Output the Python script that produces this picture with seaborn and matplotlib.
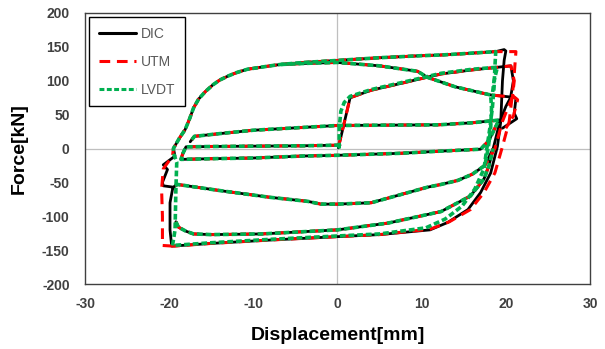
import matplotlib
matplotlib.use("Agg")
import matplotlib.pyplot as plt
from matplotlib.colors import to_hex
import pandas as pd
import seaborn as sns

series_names = ["DIC", "UTM", "LVDT"]
colors = {"DIC": "#000000", "UTM": "#FF0000", "LVDT": "#00B050"}

# branches shared by the three measurements (displacement mm, force kN)
loop1_x = [0.3, -4.3, -10, -15, -18, -18.4, -18.6, -15, -10, -4, 0, 7.5, 12, 17,
           18, 18.7, 19.2, 16, 12, 6, 0, -4.3, -10, -14, -17, -17.5]
loop1_y = [5, 4, 3.5, 3, 2.5, -8, -16, -15, -14, -11, -10, -7, -4, -1,
           12, 30, 42, 38, 35, 34.5, 34, 31, 27, 22, 18, 10]
mid_x = [-19.3, -19, -14, -8, -3.5, -2, 0, 4, 7.5, 10.7, 12.3, 14.3, 16, 17.5]
mid_y = [-55, -53, -62, -72, -78, -82, -82, -80, -68, -57, -53, -47, -38, -25]
desc_x = [18.2, 14, 10.7, 9.5, 5, 0, -3, -6.8]
desc_y = [79, 91, 105, 114, 122, 127, 126, 124]
env_x = [-19.5, -18.8, -18.1, -17.6, -17.1, -16.5, -15.7, -14.8, -14.0, -13.0, -12,
         -10.7, -8, -6.8, -4, 0, 5, 10, 12.3, 15, 18.8]
env_y = [0, 15, 28, 43, 60, 73, 84, 94, 101, 107, 112,
         117, 122, 124, 127, 130, 134, 137, 138, 140, 143]
lowin_x = [-19.2, -18.9, -18, -17.1, -15, -9, 0, 6, 12.3, 15.8, 17.4, 18.0, 18.5]
lowin_y = [-108, -116, -122, -126, -127, -126, -120, -110, -93, -70, -45, -25, 0]

# DIC
dic_init_x = [0.1, 0.8, 1.5, 4, 7.5, 12.3, 16, 20.6, 20.9, 20.6, 21.2, 21.0, 21.3, 19.6]
dic_init_y = [1, 38, 75, 86, 96, 110, 116, 122, 100, 78, 74, 52, 44, 30]
dic_turn_x = [18.5, 19.3, 20.0, 20.6]
dic_turn_y = [0, 40, 62, 76]
dic_left_x = [-19.5, -20.7, -20.8, -20.2, -20.7, -19.3]
dic_left_y = [-57, -55, -50, -31, -24, -11]
dic_outer_x = [18.8, 19.8, 20.0, 19.8, 19.6, 19.4, 19.0, 18.2, 17.0, 15.5, 13.1, 11.0,
               5, 0, -8, -15, -19.7, -19.9, -19.9, -19.6, -19.3]
dic_outer_y = [143, 146, 144, 130, 100, 40, 3, -36, -65, -90, -109, -120,
               -127, -130, -135, -140, -144, -120, -80, -60, -55]

# UTM
utm_init_x = [0.1, 0.8, 1.5, 4, 7.5, 12.3, 16, 20.6, 21.0, 20.8, 21.4, 20.9, 20.0]
utm_init_y = [2, 38, 75, 86, 96, 110, 116, 122, 100, 78, 72, 48, 30]
utm_turn_x = [18.7, 19.6, 20.3, 20.8]
utm_turn_y = [0, 40, 62, 76]
utm_left_x = [-19.5, -20.8, -20.8, -20.9, -20.7, -20.3, -19.6]
utm_left_y = [-144, -143, -100, -60, -30, -23, -11]
utm_outer_x = [18.8, 21.2, 21.0, 20.8, 20.4, 19.6, 18.7, 17.4, 15.8, 13.3, 11.0,
               5, 0, -8, -15, -19.5]
utm_outer_y = [143, 143, 110, 82, 40, 3, -36, -65, -90, -108, -119,
               -127, -130, -135, -140, -144]

# LVDT
lvdt_init_x = [0.2, 0.2, 0.4, 0.8, 1.5, 4, 7.5, 12.3, 16, 19.0, 18.6, 18.4]
lvdt_init_y = [0, 30, 55, 68, 77, 87, 97, 111, 117, 120, 100, 80]
lvdt_turn_x = [17.9, 18.2, 18.3]
lvdt_turn_y = [0, 30, 60]
lvdt_left_x = [-19.6, -19.3, -19.2, -19.1, -19.4]
lvdt_left_y = [-143, -120, -60, -20, -10]
lvdt_outer_x = [18.8, 18.7, 18.6, 18.4, 18.1, 17.8, 17.4, 16.3, 14.8, 12.8, 10.5,
                5, 0, -8, -15, -19.6]
lvdt_outer_y = [143, 120, 90, 60, 30, 5, -30, -60, -85, -104, -117,
                -126, -129, -134, -139, -143]

paths = {
    "DIC": [
        (dic_init_x, dic_init_y),
        (loop1_x, loop1_y),
        (mid_x + dic_turn_x + desc_x, mid_y + dic_turn_y + desc_y),
        (dic_left_x + env_x + dic_outer_x, dic_left_y + env_y + dic_outer_y),
        (lowin_x, lowin_y),
    ],
    "UTM": [
        (utm_init_x, utm_init_y),
        (loop1_x, loop1_y),
        (mid_x + utm_turn_x + desc_x, mid_y + utm_turn_y + desc_y),
        (utm_left_x + env_x + utm_outer_x, utm_left_y + env_y + utm_outer_y),
        (lowin_x, lowin_y),
    ],
    "LVDT": [
        (lvdt_init_x, lvdt_init_y),
        (loop1_x, loop1_y),
        (mid_x + lvdt_turn_x + desc_x, mid_y + lvdt_turn_y + desc_y),
        (lvdt_left_x + env_x + lvdt_outer_x, lvdt_left_y + env_y + lvdt_outer_y),
        (lowin_x, lowin_y),
    ],
}

rows = []
for name, segs in paths.items():
    for k, (xs, ys) in enumerate(segs):
        for x, y in zip(xs, ys):
            rows.append({"series": name, "seg": f"{name}_{k}", "disp": x, "force": y})
df = pd.DataFrame(rows)

sns.set_theme(style="white")
plt.rcParams["font.family"] = ["Liberation Sans", "DejaVu Sans"]
plt.rcParams["axes.unicode_minus"] = False

fig = plt.figure(figsize=(6.05, 3.49), dpi=100)
ax = fig.add_axes([0.1405, 0.186, 0.8347, 0.7768])

ax.axhline(0, color="#BFBFBF", lw=0.9, zorder=0)
ax.axvline(0, color="#BFBFBF", lw=0.9, zorder=0)

sns.lineplot(data=df, x="disp", y="force", hue="series", style="series",
             units="seg", estimator=None, sort=False,
             hue_order=series_names, style_order=series_names,
             palette=colors,
             dashes={"DIC": "", "UTM": (3.5, 2.2), "LVDT": (1.6, 0.8)},
             linewidth=2.2, ax=ax)

lw_by_color = {"#000000": 2.0, "#ff0000": 2.2, "#00b050": 2.6}
for line in ax.lines:
    c = to_hex(line.get_color())
    if c in lw_by_color:
        line.set_linewidth(lw_by_color[c])

ax.set_xlim(-30, 30)
ax.set_ylim(-200, 200)
ax.set_xticks(range(-30, 31, 10))
ax.set_yticks(range(-200, 201, 50))
ax.tick_params(axis="both", length=0, labelsize=10, labelcolor="#404040")
ax.tick_params(axis="x", pad=9)
ax.tick_params(axis="y", pad=11)
for lbl in ax.get_xticklabels() + ax.get_yticklabels():
    lbl.set_fontweight("bold")

for sp in ax.spines.values():
    sp.set_color("#404040")
    sp.set_linewidth(1.0)

ax.set_xlabel("Displacement[mm]", fontsize=14, fontweight="bold", color="black", labelpad=12)
ax.set_ylabel("Force[kN]", fontsize=14, fontweight="bold", color="black", labelpad=10)

old = ax.get_legend()
handles = old.legend_handles
labels = [t.get_text() for t in old.get_texts()]
old.remove()
leg = ax.legend(handles, labels, loc="upper left", frameon=True, fancybox=False,
                edgecolor="black", framealpha=1, fontsize=10, handlelength=2.7,
                labelspacing=1.0, handletextpad=0.3, borderaxespad=0.3, borderpad=0.7)
leg.get_frame().set_linewidth(1.0)
for t in leg.get_texts():
    t.set_color("#595959")

fig.savefig("out.png", dpi=100)
